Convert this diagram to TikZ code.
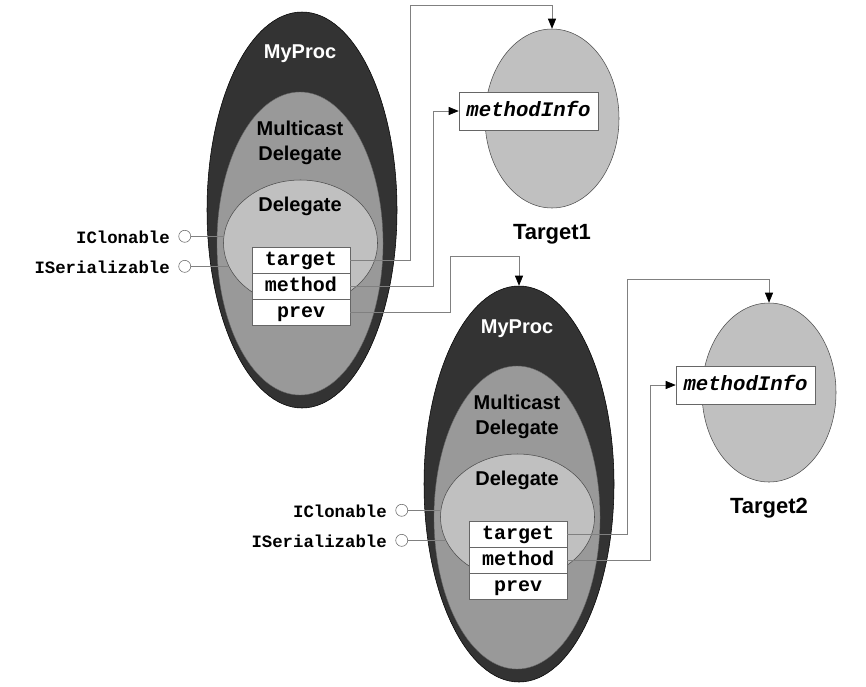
\documentclass[tikz,border=0pt]{standalone}
\usepackage{fontspec}
\setsansfont{Liberation Sans}
\setmonofont{Liberation Mono}
\usetikzlibrary{shapes.geometric}
\usetikzlibrary{arrows.meta}
\definecolor{procgray}{HTML}{333333}
\definecolor{mcgray}{HTML}{999999}
\definecolor{delgray}{HTML}{C0C0C0}
\definecolor{wiregray}{HTML}{808080}

\begin{document}
\begin{tikzpicture}[x=0.75pt,y=0.75pt,yscale=-1,xscale=1,
  proc/.style={ellipse,inner sep=0,fill=procgray,draw=black,line width=0.4pt,minimum width=142.5pt,minimum height=297pt},
  mcast/.style={ellipse,inner sep=0,fill=mcgray,draw=black!60,line width=0.3pt,minimum width=124.5pt,minimum height=227.25pt},
  deleg/.style={ellipse,inner sep=0,fill=delgray,draw=black!70,line width=0.4pt,minimum width=115.5pt,minimum height=94.5pt},
  targ/.style={ellipse,inner sep=0,fill=delgray,draw=black!70,line width=0.4pt,minimum width=100.5pt,minimum height=134.25pt},
  field/.style={rectangle,fill=white,draw=black!60,line width=0.4pt,inner sep=0,minimum width=73.5pt,minimum height=19.5pt,text height=10.5pt,text depth=3pt,font=\ttfamily\bfseries\fontsize{15}{15}\selectfont},
  infobox/.style={rectangle,fill=white,draw=black!60,line width=0.4pt,inner sep=0,minimum width=104.25pt,minimum height=28.5pt,text height=10.5pt,text depth=3pt,font=\ttfamily\bfseries\itshape\fontsize{15.5}{15.5}\selectfont},
  lolli/.style={circle,fill=white,draw=black!60,line width=0.4pt,inner sep=0,minimum size=9pt},
  ifname/.style={anchor=east,inner sep=0,font=\ttfamily\bfseries\fontsize{13}{13}\selectfont},
  title/.style={inner sep=0,align=center,font=\sffamily\bfseries\fontsize{15}{18.75}\selectfont},
  conn/.style={draw=wiregray,line width=0.5pt,-{Triangle[length=7.5pt,width=6pt,fill=black,color=black]}},
  wire/.style={draw=wiregray,line width=0.5pt}]
\useasboundingbox (0,0) rectangle (866,686);

%Shape: first MyProc
\node (P1) [proc] at (302,210) {};
\node (M1) [mcast] at (300,243.5) {};
\node (D1) [deleg] at (300.5,243) {};
\draw [wire] (D1.175) -- (D1.175 -| 191,0) node (ic1) [lolli,anchor=east] {};
\draw [wire] (D1.198) -- (D1.198 -| 191,0) node (is1) [lolli,anchor=east] {};
\node (icl1) [ifname] at (170,237) {IClonable};
\node (isl1) [ifname] at (170,267) {ISerializable};

% Text Node
\node (pt1) [title,text=white] at (300,54) {MyProc};
\node (mt1) [title] at (300,143) {Multicast\\Delegate};
\node (dt1) [title] at (300,206) {Delegate};

%Fields
\node (tg1) [field] at (301,260) {target};
\node (md1) [field] at (301,286) {method};
\node (pv1) [field] at (301,312) {prev};

%Shape: Target1
\node (T1) [targ] at (552,118.5) {};
\node (mi1) [infobox] at (528.5,111) {methodInfo};
\node (tt1) [title,font=\sffamily\bfseries\fontsize{16.5}{16.5}\selectfont] at (552,234) {Target1};

%Shape: second MyProc
\node (P2) [proc] at (519,484) {};
\node (M2) [mcast] at (517,517.5) {};
\node (D2) [deleg] at (517.5,517) {};
\draw [wire] (D2.175) -- (D2.175 -| 408,0) node (ic2) [lolli,anchor=east] {};
\draw [wire] (D2.198) -- (D2.198 -| 408,0) node (is2) [lolli,anchor=east] {};
\node (icl2) [ifname] at (387,511) {IClonable};
\node (isl2) [ifname] at (387,541) {ISerializable};

% Text Node
\node (pt2) [title,text=white] at (517,329) {MyProc};
\node (mt2) [title] at (517,417) {Multicast\\Delegate};
\node (dt2) [title] at (517,480) {Delegate};

%Fields
\node (tg2) [field] at (518,534) {target};
\node (md2) [field] at (518,560) {method};
\node (pv2) [field] at (518,586) {prev};

%Shape: Target2
\node (T2) [targ] at (769,392.5) {};
\node (mi2) [infobox] at (745.5,385) {methodInfo};
\node (tt2) [title,font=\sffamily\bfseries\fontsize{16.5}{16.5}\selectfont] at (769,508) {Target2};

%Connectors
\draw [conn] (tg1.east) -| (410,5) -| (T1.north);
\draw [conn] (md1.east) -| (433,111) -- (mi1.west);
\draw [conn] (pv1.east) -| (450,256) -| (P2.north);
\draw [conn] (tg2.east) -| (627,279) -| (T2.north);
\draw [conn] (md2.east) -| (650,385) -- (mi2.west);

\end{tikzpicture}
\end{document}
